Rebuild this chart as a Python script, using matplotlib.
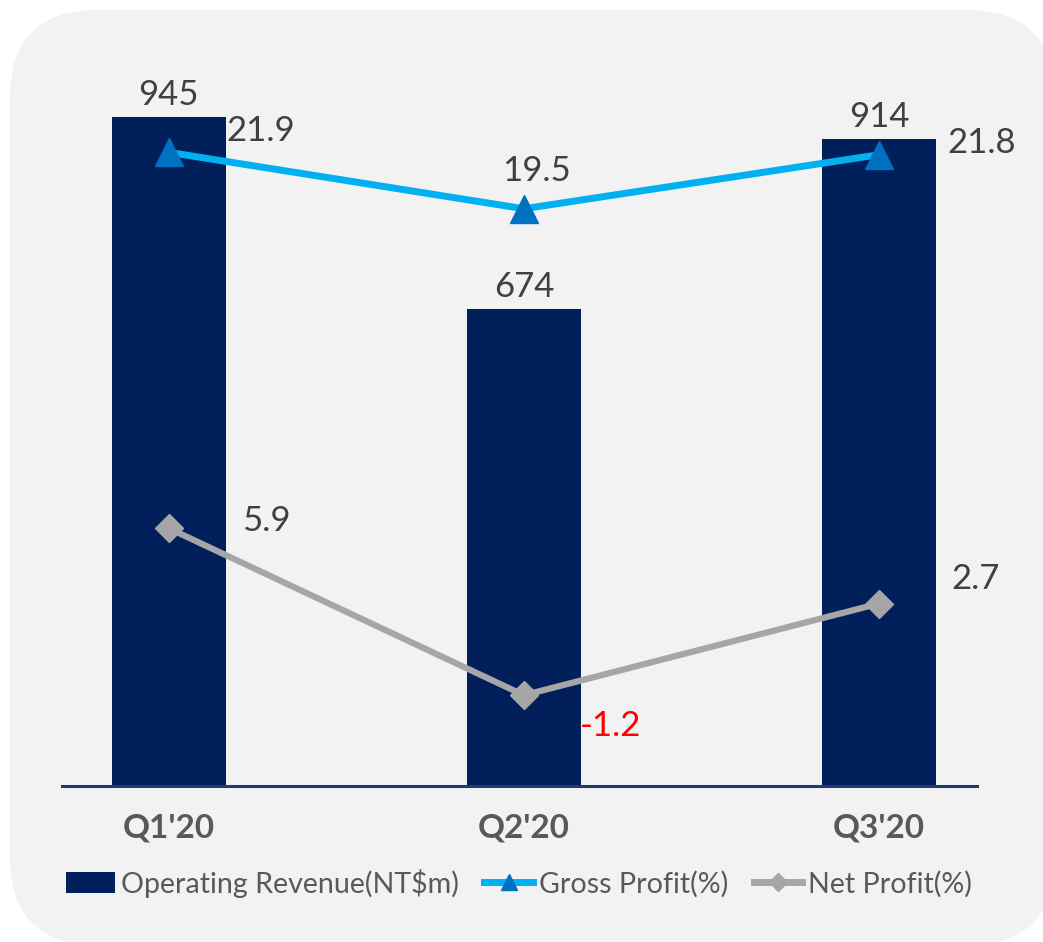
import matplotlib
matplotlib.use("Agg")
import matplotlib.pyplot as plt
from matplotlib.patches import FancyBboxPatch
from matplotlib.lines import Line2D
from matplotlib.patches import Patch

categories = ["Q1'20", "Q2'20", "Q3'20"]
revenue = [945, 674, 914]
gross_profit = [21.9, 19.5, 21.8]
net_profit = [5.9, -1.2, 2.7]

FONT = ["Lato", "DejaVu Sans"]
plt.rcParams['font.family'] = FONT

W, H = 1043, 942
fig = plt.figure(figsize=(W / 100, H / 100), dpi=100)
fig.patch.set_facecolor("white")

# background rounded panel (pixel coordinates)
bgax = fig.add_axes([0, 0, 1, 1], zorder=-5)
bgax.set_xlim(0, W)
bgax.set_ylim(H, 0)
bgax.axis("off")
bgax.add_patch(FancyBboxPatch((10, 10), 1045, 935,
                              boxstyle="round,pad=0,rounding_size=88",
                              facecolor="#f2f2f2", edgecolor="none"))

left, right = 62 / W, 977 / W
bottom, top = 1 - 786 / H, 1 - 30 / H
ax = fig.add_axes([left, bottom, right - left, top - bottom], zorder=1)
ax.set_facecolor("none")
x = list(range(len(categories)))
ax.set_xlim(-0.301, 2.276)
ax.set_ylim(0, (786 - 30) / 0.708)
bars = ax.bar(x, revenue, width=0.322, color="#001f5b", zorder=2)
for s in ax.spines.values():
    s.set_visible(False)
ax.axhline(0, color="#1f3a6e", lw=2.2, zorder=3, clip_on=False)
ax.set_yticks([])
ax.set_xticks(x)
ax.set_xticklabels(categories, fontsize=24, fontweight="bold", color="#595959")
ax.tick_params(axis="x", length=0, pad=20)

for xi, v in zip(x, revenue):
    ax.annotate(f"{v}", (xi, v), xytext=(0, 6), textcoords="offset pixels",
                ha="center", va="bottom", fontsize=25, color="#404040", zorder=5)

ax2 = ax.twinx()
ax2.set_ylim(-(786 - 667) / 23.5, (667 - 30) / 23.5)
ax2.set_yticks([])
for s in ax2.spines.values():
    s.set_visible(False)
ax2.plot(x, gross_profit, color="#00b0f0", lw=5, marker="^", markersize=20,
         markerfacecolor="#0070c0", markeredgecolor="#0070c0", zorder=4)
ax2.plot(x, net_profit, color="#a6a6a6", lw=4.5, marker="D", markersize=14,
         markerfacecolor="#a6a6a6", markeredgecolor="#a6a6a6", zorder=4)

gp_offsets = [(92, 21), (13, 38), (103, 12)]
for xi, v, off in zip(x, gross_profit, gp_offsets):
    ax2.annotate(f"{v}", (xi, v), xytext=off, textcoords="offset pixels",
                 ha="center", va="center", fontsize=25, color="#404040")
np_offsets = [(97, 7), (87, -31), (97, 25)]
for xi, v, off in zip(x, net_profit, np_offsets):
    ax2.annotate(f"{v}", (xi, v), xytext=off, textcoords="offset pixels",
                 ha="center", va="center", fontsize=25,
                 color="#ff0000" if v < 0 else "#404040")

handles = [
    Patch(facecolor="#001f5b", edgecolor="none"),
    Line2D([0], [0], color="#00b0f0", lw=5, marker="^", markersize=12,
           markerfacecolor="#0070c0", markeredgecolor="#0070c0"),
    Line2D([0], [0], color="#a6a6a6", lw=5, marker="D", markersize=9,
           markerfacecolor="#a6a6a6", markeredgecolor="#a6a6a6"),
]
labels = ["Operating Revenue(NT$m)", "Gross Profit(%)", "Net Profit(%)"]
leg = fig.legend(handles, labels, loc="center", bbox_to_anchor=(519 / W, 1 - 883 / H),
                 ncol=3, frameon=False, fontsize=20.6, handlelength=1.7,
                 handletextpad=0.2, columnspacing=0.9, labelcolor="#595959")

fig.savefig("out.png", dpi=100, facecolor="white")
